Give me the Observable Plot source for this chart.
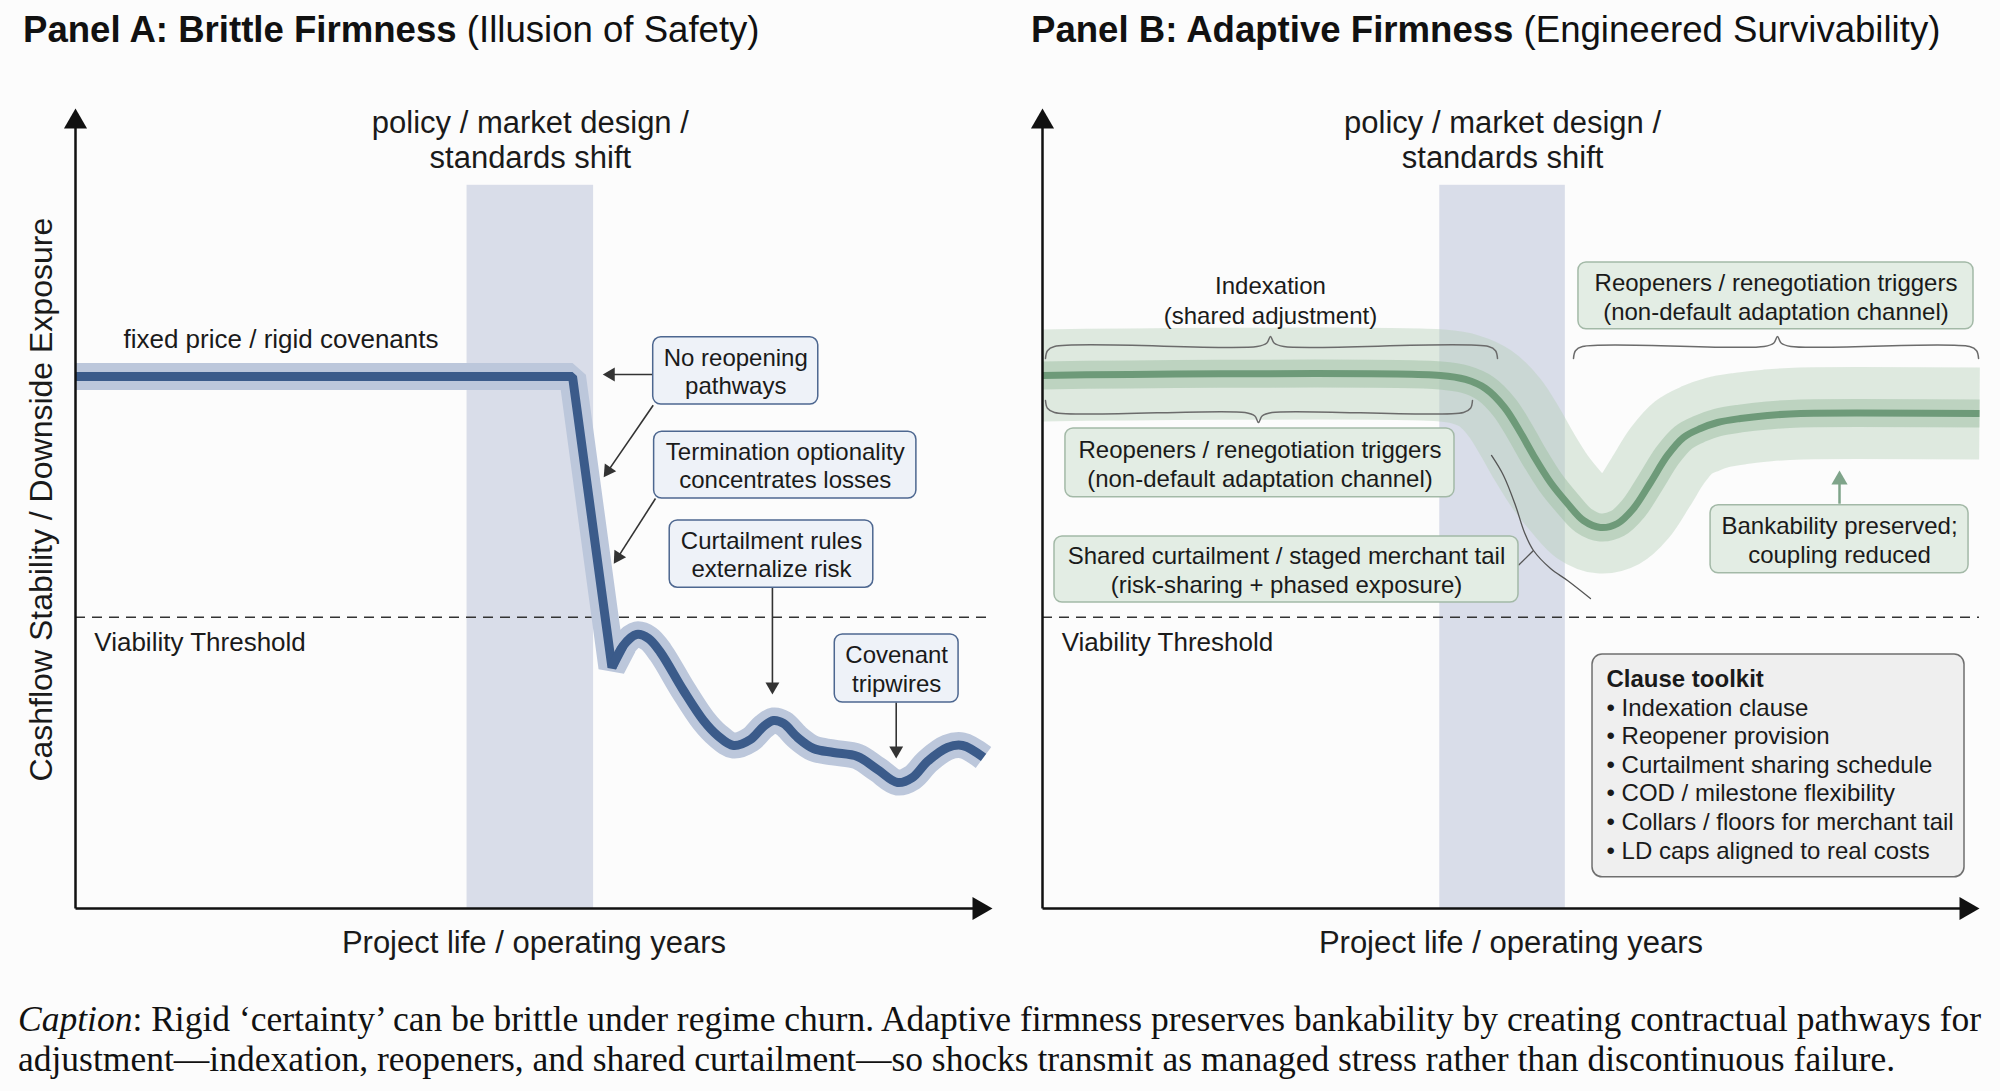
<!DOCTYPE html>
<html>
<head>
<meta charset="utf-8">
<script src="https://cdn.jsdelivr.net/npm/d3@7"></script>
<script src="https://cdn.jsdelivr.net/npm/@observablehq/plot@0.6"></script>
<style>
html, body { margin: 0; padding: 0; background: #fcfcfc; }
#page { position: relative; width: 2000px; height: 1091px; overflow: hidden;
  font-family: "Liberation Sans", Arial, Helvetica, sans-serif; color: #111; }
.title { position: absolute; top: 0; height: 60px; line-height: 60px; font-size: 36.6px; white-space: nowrap; }
.panel { position: absolute; top: 60px; width: 1000px; height: 905px; }
#caption { position: absolute; left: 18px; top: 999px; font-family: "Liberation Serif", "Times New Roman", serif;
  font-size: 35.5px; line-height: 40px; white-space: nowrap; color: #111; }
</style>
</head>
<body>
<div id="page">
  <div class="title" style="left:23px"><b>Panel A: Brittle Firmness</b> (Illusion of Safety)</div>
  <div class="title" style="left:1031px"><b>Panel B: Adaptive Firmness</b> (Engineered Survivability)</div>
  <div class="panel" id="panelA" style="left:0px"></div>
  <div class="panel" id="panelB" style="left:1000px"></div>
  <div id="caption"><i>Caption</i>: Rigid ‘certainty’ can be brittle under regime churn. Adaptive firmness preserves bankability by creating contractual pathways for<br>adjustment—indexation, reopeners, and shared curtailment—so shocks transmit as managed stress rather than discontinuous failure.</div>
</div>
<script>
// ---------------- DATA (x: project life 0–100, y: cashflow stability 0–100) ----------------
const xLabel = "Project life / operating years";
const yLabel = "Cashflow Stability / Downside Exposure";
const shockLabel = "policy / market design /\nstandards shift";
const thresholdLabel = "Viability Threshold";
const threshold = [36.4];

// Panel A
const shockBandA = [{x1: 42.7, x2: 56.5, y1: 0, y2: 90.4}];
const rigidPath = [
  {x: 0, y: 66.5}, {x: 54.2, y: 66.5}, {x: 58.5, y: 30.13}, {x: 59.75, y: 32.88}
];
const rigidWave = [
  [58.5, 30.13], [59.75, 32.88], [61.18, 34.25], [62.49, 33.75], [63.80, 32.0], [66.30, 27.25],
  [68.48, 23.5], [70.01, 21.63], [71.76, 20.38], [73.61, 21.13], [75.03, 22.75], [76.12, 23.5],
  [77.21, 23.13], [78.74, 21.38], [80.48, 20.0], [82.66, 19.5], [85.28, 19.0], [87.46, 17.38],
  [89.64, 15.75], [91.28, 16.38], [92.91, 18.38], [95.09, 20.13], [96.73, 20.38], [99.02, 18.88]
].map(([x, y]) => ({x, y}));
const rigidLabel = [{x: 5.23, y: 70.1, text: "fixed price / rigid covenants"}];
const calloutsA = [
  {label: "No reopening\npathways", x1: 63.0, x2: 81.0, y1: 63.0, y2: 71.4},
  {label: "Termination optionality\nconcentrates losses", x1: 63.1, x2: 91.7, y1: 51.25, y2: 59.6},
  {label: "Curtailment rules\nexternalize risk", x1: 64.8, x2: 87.0, y1: 40.1, y2: 48.5},
  {label: "Covenant\ntripwires", x1: 82.8, x2: 96.3, y1: 25.75, y2: 34.25}
];
const arrowsA = [
  {x1: 62.9, y1: 66.75, x2: 57.5, y2: 66.75},
  {x1: 63.0, y1: 62.9, x2: 57.6, y2: 53.9},
  {x1: 63.25, y1: 51.25, x2: 58.7, y2: 43.1},
  {x1: 76.0, y1: 40.1, x2: 76.0, y2: 26.75},
  {x1: 89.5, y1: 25.75, x2: 89.5, y2: 18.75}
];

// Panel B
const shockBandB = [{x1: 42.4, x2: 55.8, y1: 0, y2: 90.4}];
const adaptivePath = [
  [0, 66.63], [42.48, 66.63], [45.14, 66.13], [47.28, 65.0], [49.31, 62.63], [51.01, 59.5],
  [52.40, 56.63], [54.22, 53.25], [56.03, 50.63], [57.74, 48.5], [59.55, 47.63], [61.37, 48.13],
  [63.07, 50.0], [64.89, 53.25], [66.70, 56.63], [68.41, 58.88], [70.22, 60.0], [72.04, 60.75],
  [74.49, 61.25], [77.37, 61.63], [80.90, 61.88], [100, 61.88]
].map(([x, y]) => ({x, y}));
const indexationLabel = [{x: 24.33, y: 73.1, text: "Indexation\n(shared adjustment)"}];
const bracesB = [
  {x1: 0.32, x2: 48.56, xm: 24.33, y: 70.25, dir: 1},
  {x1: 0.32, x2: 45.89, xm: 23.05, y: 62.0, dir: -1},
  {x1: 56.67, x2: 99.9, xm: 78.44, y: 70.25, dir: 1}
];
const calloutsB = [
  {label: "Reopeners / renegotiation triggers\n(non-default adaptation channel)", x1: 2.45, x2: 43.97, y1: 51.4, y2: 60.0},
  {label: "Shared curtailment / staged merchant tail\n(risk-sharing + phased exposure)", x1: 1.28, x2: 50.8, y1: 38.25, y2: 46.5},
  {label: "Reopeners / renegotiation triggers\n(non-default adaptation channel)", x1: 57.2, x2: 99.36, y1: 72.4, y2: 80.75},
  {label: "Bankability preserved;\ncoupling reduced", x1: 71.3, x2: 98.83, y1: 41.9, y2: 50.4}
];
const connectorB = [
  [47.92, 56.63], [49.2, 54.13], [50.48, 50.38], [51.44, 47.0], [52.4, 44.75], [54.22, 42.5], [56.03, 41.0], [58.48, 38.75]
].map(([x, y]) => ({x, y}));
const connectorStub = [{x1: 50.8, y1: 42.9, x2: 52.4, y2: 44.75}];
const arrowsB = [{x1: 85.06, y1: 50.6, x2: 85.06, y2: 54.75}];
const toolkitBox = [{x1: 58.7, x2: 98.4, y1: 3.9, y2: 31.75}];
const toolkitTitle = [{x: 60.19, y: 27.75, text: "Clause toolkit"}];
const toolkitItems = [
  "Indexation clause", "Reopener provision", "Curtailment sharing schedule",
  "COD / milestone flexibility", "Collars / floors for merchant tail", "LD caps aligned to real costs"
];

// ---------------- LAYOUT ----------------
const W = 1000, H = 905;
const FONT = '"Liberation Sans", Arial, Helvetica, sans-serif';
const TXT = "#1a1a1a";
const dimsA = {marginLeft: 75, marginRight: 8, marginTop: 48, marginBottom: 57};
const dimsB = {marginLeft: 42, marginRight: 21, marginTop: 48, marginBottom: 57};

function unitsFor(d) {
  return {kx: (W - d.marginLeft - d.marginRight) / 100, ky: (H - d.marginTop - d.marginBottom) / 100};
}

function arrowMarks(arrows, d, {head = 12, color = "#333", width = 1.6} = {}) {
  const {kx, ky} = unitsFor(d);
  const off = head * 2 / 3;
  const r = head * Math.sqrt(Math.sqrt(3) / (3 * Math.PI));
  const heads = [], shafts = [];
  for (const a of arrows) {
    const px = (a.x2 - a.x1) * kx, py = -(a.y2 - a.y1) * ky;
    const L = Math.hypot(px, py), ux = px / L, uy = py / L;
    heads.push({x: a.x2 - ux * off / kx, y: a.y2 + uy * off / ky, rotate: Math.atan2(uy, ux) * 180 / Math.PI + 90});
    shafts.push({x1: a.x1, y1: a.y1, x2: a.x2 - ux * head * 0.7 / kx, y2: a.y2 + uy * head * 0.7 / ky});
  }
  return [
    Plot.link(shafts, {x1: "x1", y1: "y1", x2: "x2", y2: "y2", stroke: color, strokeWidth: width}),
    Plot.dot(heads, {x: "x", y: "y", rotate: "rotate", symbol: "triangle", r, fill: color, stroke: "none"})
  ];
}

function axisMarks(d) {
  const axes = [{x1: 0, y1: 0, x2: 0, y2: 100}, {x1: 0, y1: 0, x2: 100, y2: 0}];
  return arrowMarks(axes, d, {head: 20, color: "#111", width: 2.5});
}

function bracePoints(b, i) {
  const e = 1.5, t = 1.25, ex = 0.6, tx = 1.1, dd = b.dir;
  return [
    [b.x1, b.y - dd * e], [b.x1 + ex * 0.35, b.y - dd * e * 0.35], [b.x1 + ex * 1.6, b.y],
    [b.xm - tx * 1.3, b.y], [b.xm - tx * 0.35, b.y + dd * t * 0.35], [b.xm, b.y + dd * t],
    [b.xm + tx * 0.35, b.y + dd * t * 0.35], [b.xm + tx * 1.3, b.y],
    [b.x2 - ex * 1.6, b.y], [b.x2 - ex * 0.35, b.y - dd * e * 0.35], [b.x2, b.y - dd * e]
  ].map(([x, y]) => ({x, y, brace: i}));
}

function commonLabels(band, showY) {
  const bandMid = (band[0].x1 + band[0].x2) / 2;
  const marks = [
    Plot.text([shockLabel], {x: bandMid, y: 92.6, text: (dd) => dd, lineAnchor: "bottom", lineHeight: 1.13,
      fontSize: 31, fill: TXT}),
    Plot.text([thresholdLabel], {x: 2.05, y: 32.25, text: (dd) => dd, textAnchor: "start", lineAnchor: "bottom",
      fontSize: 26, fill: TXT}),
    Plot.text([xLabel], {x: 50, y: -5.6, text: (dd) => dd, lineAnchor: "bottom", fontSize: 31, fill: TXT})
  ];
  if (showY) marks.push(Plot.text([yLabel], {x: -3.7, y: 51.1, text: (dd) => dd, rotate: -90, fontSize: 32, fill: TXT}));
  return marks;
}

function base(d, marks) {
  return Plot.plot({
    width: W, height: H, ...d,
    x: {domain: [0, 100], axis: null},
    y: {domain: [0, 100], axis: null},
    style: {fontFamily: FONT, background: "transparent", overflow: "visible"},
    marks
  });
}

// ---------------- PANEL A ----------------
const plotA = base(dimsA, [
  Plot.rect(shockBandA, {x1: "x1", x2: "x2", y1: "y1", y2: "y2", fill: "#d9dde9"}),
  Plot.ruleY(threshold, {x1: 0, x2: 100, stroke: "#333", strokeWidth: 1.5, strokeDasharray: "10,7"}),
  Plot.line(rigidPath, {x: "x", y: "y", stroke: "#bcc7db", strokeWidth: 27, strokeLinejoin: "miter", strokeLinecap: "butt"}),
  Plot.line(rigidWave, {x: "x", y: "y", stroke: "#bcc7db", strokeWidth: 26, curve: "catmull-rom", strokeLinecap: "butt"}),
  Plot.line(rigidPath, {x: "x", y: "y", stroke: "#3b5b8a", strokeWidth: 9, strokeLinejoin: "miter", strokeLinecap: "butt"}),
  Plot.line(rigidWave, {x: "x", y: "y", stroke: "#3b5b8a", strokeWidth: 9, curve: "catmull-rom", strokeLinecap: "butt"}),
  Plot.text(rigidLabel, {x: "x", y: "y", text: "text", textAnchor: "start", lineAnchor: "bottom", fontSize: 26, fill: TXT}),
  ...arrowMarks(arrowsA, dimsA, {head: 12, color: "#333", width: 1.6}),
  Plot.rect(calloutsA, {x1: "x1", x2: "x2", y1: "y1", y2: "y2", rx: 8, fill: "#eef2f8", stroke: "#4d6790", strokeWidth: 1.5}),
  Plot.text(calloutsA, {x: (dd) => (dd.x1 + dd.x2) / 2, y: (dd) => (dd.y1 + dd.y2) / 2, text: "label",
    fontSize: 24, lineHeight: 1.17, fill: TXT}),
  ...commonLabels(shockBandA, true),
  ...axisMarks(dimsA)
]);
document.getElementById("panelA").append(plotA);

// ---------------- PANEL B ----------------
const braceData = bracesB.flatMap(bracePoints);
const plotB = base(dimsB, [
  Plot.rect(shockBandB, {x1: "x1", x2: "x2", y1: "y1", y2: "y2", fill: "#d9dde9"}),
  Plot.ruleY(threshold, {x1: 0, x2: 100, stroke: "#333", strokeWidth: 1.5, strokeDasharray: "10,7"}),
  Plot.line(adaptivePath, {x: "x", y: "y", stroke: "#b4d0b7", strokeOpacity: 0.42, strokeWidth: 92, curve: "catmull-rom", strokeLinecap: "butt"}),
  Plot.line(adaptivePath, {x: "x", y: "y", stroke: "#a6c4ab", strokeOpacity: 0.6, strokeWidth: 28, curve: "catmull-rom", strokeLinecap: "butt"}),
  Plot.line(adaptivePath, {x: "x", y: "y", stroke: "#6e9a79", strokeWidth: 7, curve: "catmull-rom", strokeLinecap: "butt"}),
  Plot.line(braceData, {x: "x", y: "y", z: "brace", curve: "catmull-rom", stroke: "#6b6b6b", strokeWidth: 1.5}),
  Plot.text(indexationLabel, {x: "x", y: "y", text: "text", lineAnchor: "bottom", lineHeight: 1.25, fontSize: 24, fill: TXT}),
  Plot.line(connectorB, {x: "x", y: "y", curve: "catmull-rom", stroke: "#555", strokeWidth: 1.3}),
  Plot.link(connectorStub, {x1: "x1", y1: "y1", x2: "x2", y2: "y2", stroke: "#555", strokeWidth: 1.3}),
  Plot.rect(calloutsB, {x1: "x1", x2: "x2", y1: "y1", y2: "y2", rx: 8, fill: "#e3ede4", stroke: "#a3b9a7", strokeWidth: 1.5}),
  Plot.text(calloutsB, {x: (dd) => (dd.x1 + dd.x2) / 2, y: (dd) => (dd.y1 + dd.y2) / 2, text: "label",
    fontSize: 24, lineHeight: 1.2, fill: TXT}),
  ...arrowMarks(arrowsB, dimsB, {head: 14, color: "#7fa48a", width: 2.5}),
  Plot.rect(toolkitBox, {x1: "x1", x2: "x2", y1: "y1", y2: "y2", rx: 10, fill: "#efefef", stroke: "#6f6f6f", strokeWidth: 1.5}),
  Plot.text(toolkitTitle, {x: "x", y: "y", text: "text", textAnchor: "start", lineAnchor: "bottom", fontSize: 24,
    fontWeight: "bold", fill: TXT}),
  Plot.text([toolkitItems.map((s) => "• " + s).join("\n")], {x: toolkitTitle[0].x, y: 6.25, text: (dd) => dd,
    textAnchor: "start", lineAnchor: "bottom", lineHeight: 1.19, fontSize: 24, fill: TXT}),
  ...commonLabels(shockBandB, false),
  ...axisMarks(dimsB)
]);
document.getElementById("panelB").append(plotB);
</script>
</body>
</html>
